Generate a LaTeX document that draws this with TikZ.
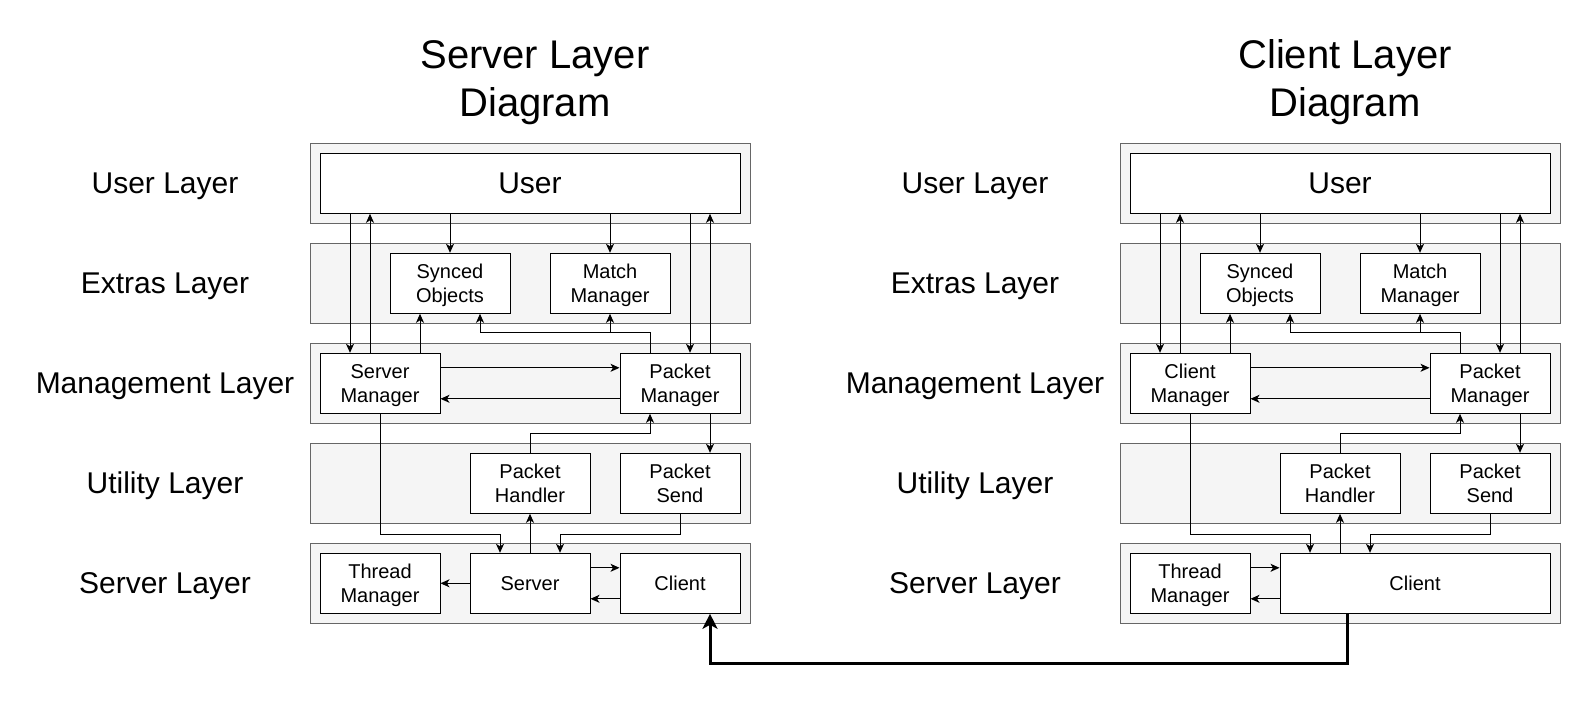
\documentclass[tikz,border=0pt]{standalone}
\usepackage{fontspec}
\setmainfont{Liberation Sans}
\usetikzlibrary{arrows.meta,calc}
\definecolor{bandfill}{HTML}{F5F5F5}
\definecolor{bandline}{HTML}{666666}
\newcommand{\stt}{\rule[-0.212em]{0pt}{1.117em}}
\tikzset{
  band/.style={draw=bandline, fill=bandfill, line width=1pt, minimum width=440pt, minimum height=80pt, inner sep=0pt},
  box/.style={draw=black, fill=white, line width=1pt, minimum width=120pt, minimum height=60pt, inner sep=0pt, align=center, font=\fontsize{20}{24}\selectfont},
  lbl/.style={font=\fontsize{30}{36}\selectfont, inner sep=0pt},
  ttl/.style={font=\fontsize{40}{48}\selectfont, inner sep=0pt, anchor=base},
  arr/.style={line width=1pt, -{Stealth[length=9pt,width=8pt,inset=2.5pt]}},
  big/.style={line width=3pt, -{Stealth[length=15pt,width=15pt,inset=4pt]}},
}
\newcommand{\diag}[4]{%
\begin{scope}[xshift=#2]
  \node[ttl] (#1t1) at (535,68.5) {#3 Layer};
  \node[ttl] (#1t2) at (535,116.5) {Diagram};
  \node[band] (#1b1) at (530,183.3) {};
  \node[band] (#1b2) at (530,283.3) {};
  \node[band] (#1b3) at (530,383.3) {};
  \node[band] (#1b4) at (530,483.3) {};
  \node[band] (#1b5) at (530,583.3) {};
  \node[lbl] (#1l1) at (165,183.3) {\stt User Layer};
  \node[lbl] (#1l2) at (165,283.3) {\stt Extras Layer};
  \node[lbl] (#1l3) at (165,383.3) {\stt Management Layer};
  \node[lbl] (#1l4) at (165,483.3) {\stt Utility Layer};
  \node[lbl] (#1l5) at (165,583.3) {\stt Server Layer};
  \node[box, minimum width=420pt, font=\fontsize{30}{36}\selectfont] (#1user) at (530,183.3) {\stt User};
  \node[box] (#1so) at (450,283.3) {\stt Synced\\\stt Objects};
  \node[box] (#1mm) at (610,283.3) {\stt Match\\\stt Manager};
  \node[box] (#1man) at (380,383.3) {\stt #4\\\stt Manager};
  \node[box] (#1pm) at (680,383.3) {\stt Packet\\\stt Manager};
  \node[box] (#1ph) at (530,483.3) {\stt Packet\\\stt Handler};
  \node[box] (#1ps) at (680,483.3) {\stt Packet\\\stt Send};
  \node[box] (#1tm) at (380,583.3) {\stt Thread\\\stt Manager};
  \coordinate (#1xa) at (350,0);
  \coordinate (#1xb) at (370,0);
  \coordinate (#1xg) at (420,0);
  \coordinate (#1xe) at (690,0);
  \coordinate (#1xf) at (710,0);
  \coordinate (#1xh) at (650,0);
  \coordinate (#1xi) at (480,0);
  \coordinate (#1xk) at (500,0);
  \coordinate (#1xm) at (560,0);
  \coordinate (#1xt) at (537.3,0);
  \coordinate (#1c1) at (650,332.7);
  \coordinate (#1c2) at (530,433.3);
  \coordinate (#1c3) at (380,534);
  \coordinate (#1c4) at (680,534);
  \coordinate (#1bt) at (537.3,663.3);
  \draw[arr] (#1user.south -| #1xa) -- (#1man.north -| #1xa);
  \draw[arr] (#1man.north -| #1xb) -- (#1user.south -| #1xb);
  \draw[arr] (#1user.south -| #1so) -- (#1so.north);
  \draw[arr] (#1user.south -| #1mm) -- (#1mm.north);
  \draw[arr] (#1user.south -| #1xe) -- (#1pm.north -| #1xe);
  \draw[arr] (#1pm.north -| #1xf) -- (#1user.south -| #1xf);
  \draw[arr] (#1man.north -| #1xg) -- (#1so.south -| #1xg);
  \draw[arr] (#1pm.north -| #1xh) -- (#1c1) -| (#1so.south -| #1xi);
  \draw[arr] (#1pm.north -| #1xh) -- (#1c1) -| (#1mm.south);
  \draw[arr] ($(#1man.north east)+(0,15)$) -- ($(#1pm.north west)+(0,15)$);
  \draw[arr] ($(#1pm.south west)+(0,-15)$) -- ($(#1man.south east)+(0,-15)$);
  \draw[arr] (#1ph.north) -- (#1c2) -| (#1pm.south -| #1xh);
  \draw[arr] (#1pm.south -| #1xf) -- (#1ps.north -| #1xf);
\end{scope}}
\newcommand{\srvarrows}[2]{%
  \draw[arr] (#1man.south) -- (#1c3) -| (#2.north -| #1xk);
  \draw[arr] (#2.north -| #1ph) -- (#1ph.south);
  \draw[arr] (#1ps.south) -- (#1c4) -| (#2.north -| #1xm);
}
\begin{document}
\begin{tikzpicture}[x=1pt,y=-1pt]
  \fill[white] (0,0) rectangle (1591,703);
  \useasboundingbox (0,0) rectangle (1591,703);
  % server diagram
  \diag{s}{0pt}{Server}{Server}
  \node[box] (ssrv) at (530,583.3) {\stt Server};
  \node[box] (scl) at (680,583.3) {\stt Client};
  \srvarrows{s}{ssrv}
  \draw[arr] (ssrv.west) -- (stm.east);
  \draw[arr] ($(ssrv.north east)+(0,15)$) -- ($(scl.north west)+(0,15)$);
  \draw[arr] ($(scl.south west)+(0,-15)$) -- ($(ssrv.south east)+(0,-15)$);
  % client diagram
  \diag{c}{810pt}{Client}{Client}
  \begin{scope}[xshift=810pt]
    \node[box, minimum width=270pt] (ccl) at (605,583.3) {\stt Client};
  \end{scope}
  \srvarrows{c}{ccl}
  \draw[arr] ($(ctm.north east)+(0,15)$) -- ($(ccl.north west)+(0,15)$);
  \draw[arr] ($(ccl.south west)+(0,-15)$) -- ($(ctm.south east)+(0,-15)$);
  % link between client and server
  \draw[big] (ccl.south -| cxt) -- (cbt) -| (scl.south -| sxf);
\end{tikzpicture}
\end{document}
